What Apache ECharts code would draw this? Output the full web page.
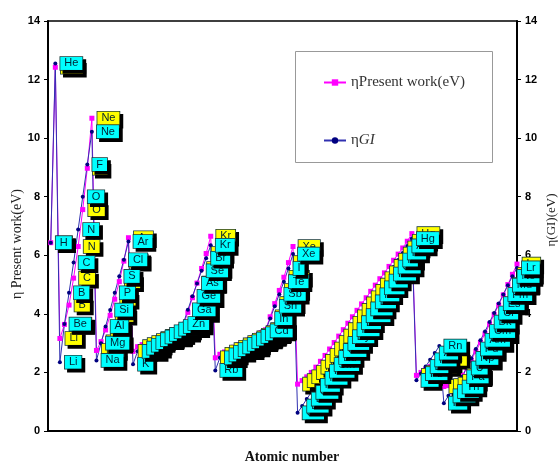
<!DOCTYPE html>
<html>
<head>
<meta charset="utf-8">
<script src="https://cdn.jsdelivr.net/npm/echarts@6/dist/echarts.min.js"></script>
<style>
html,body{margin:0;padding:0;background:#fff;}
#chart{width:558px;height:465px;}
</style>
</head>
<body>
<div id="chart"></div>
<script>
const symbols = ['H','He','Li','Be','B','C','N','O','F','Ne','Na','Mg','Al','Si','P','S','Cl','Ar',
 'K','Ca','Sc','Ti','V','Cr','Mn','Fe','Co','Ni','Cu','Zn','Ga','Ge','As','Se','Br','Kr',
 'Rb','Sr','Y','Zr','Nb','Mo','Tc','Ru','Rh','Pd','Ag','Cd','In','Sn','Sb','Te','I','Xe',
 'Cs','Ba','La','Ce','Pr','Nd','Pm','Sm','Eu','Gd','Tb','Dy','Ho','Er','Tm','Yb','Lu','Hf','Ta','W','Re','Os','Ir','Pt','Au','Hg','Tl','Pb','Bi','Po','At','Rn',
 'Fr','Ra','Ac','Th','Pa','U','Np','Pu','Am','Cm','Bk','Cf','Es','Fm','Md','No','Lr'];

const etaPresent = [6.43,12.42,
 3.16,3.64,4.30,5.22,6.30,7.56,8.97,10.68,
 2.75,3.05,3.45,3.95,4.50,5.10,5.80,6.60,
 2.72,2.88,2.95,3.02,3.09,3.16,3.23,3.30,3.37,3.45,3.53,3.62,4.05,4.55,5.05,5.55,6.06,6.65,
 2.50,2.62,2.70,2.78,2.86,2.94,3.02,3.10,3.18,3.27,3.36,3.46,3.90,4.35,4.80,5.25,5.75,6.30,
 1.60,1.72,1.85,2.00,2.18,2.38,2.58,2.80,3.02,3.24,3.46,3.68,3.90,4.12,4.34,4.55,4.77,4.98,5.20,5.40,5.62,5.83,6.04,6.25,6.48,6.74,
 1.90,2.00,2.10,2.20,2.32,2.45,
 1.52,1.55,1.60,1.70,1.90,2.15,2.42,2.72,3.02,3.32,3.65,3.98,4.30,4.65,5.00,5.35,5.70];

const etaGI = [6.43,12.55,
 2.35,3.65,4.72,5.75,6.88,8.00,9.10,10.22,
 2.41,3.00,3.57,4.13,4.72,5.28,5.85,6.47,
 2.28,2.72,2.83,2.93,3.02,3.12,3.21,3.30,3.39,3.48,3.57,3.67,4.14,4.60,5.04,5.47,5.90,6.34,
 2.07,2.50,2.60,2.69,2.78,2.87,2.96,3.05,3.14,3.23,3.32,3.42,3.84,4.26,4.67,5.10,5.55,6.04,
 0.62,0.85,1.09,1.32,1.56,1.80,2.04,2.27,2.51,2.75,2.99,3.22,3.46,3.70,3.94,4.17,4.41,4.65,4.89,5.12,5.36,5.60,5.84,6.08,6.32,6.57,
 1.73,1.96,2.20,2.43,2.66,2.90,
 0.95,1.20,1.35,1.50,1.85,2.15,2.48,2.80,3.10,3.40,3.72,4.03,4.35,4.66,4.98,5.28,5.57];

const yTicks = [0,2,4,6,8,10,12,14];

const presentData = etaPresent.map((v,i)=>[i+1,v]);
const giData = etaGI.map((v,i)=>[i+1,v]);

function boxLabel(bg){
  return {
    show:true, position:'right', distance:3,
    formatter:p=>symbols[p.dataIndex],
    color:'#002233', fontFamily:'Liberation Sans, Arial, sans-serif', fontSize:11, lineHeight:10,
    backgroundColor:bg, borderColor:'#1a3a3a', borderWidth:0.8,
    padding:[2,4,1,4],
    shadowColor:'#000', shadowOffsetX:3, shadowOffsetY:3, shadowBlur:0
  };
}

const yAxisBase = {
  type:'value', min:0, max:14, interval:2,
  axisLine:{show:true, lineStyle:{color:'#000', width:2}},
  axisTick:{show:true, length:4, lineStyle:{color:'#000'}},
  axisLabel:{color:'#000', fontWeight:'bold', fontSize:11, fontFamily:'Liberation Sans, Arial', margin:8,
    formatter:v=>yTicks.includes(v)?String(v):''},
  splitLine:{show:false}
};

const chart = echarts.init(document.getElementById('chart'));
chart.setOption({
  animation:false,
  backgroundColor:'#fff',
  grid:{left:48, right:41, top:21, bottom:34, show:true, borderColor:'#000', borderWidth:1.5},
  xAxis:{type:'value', min:0.4, max:103,
    axisLine:{show:true, onZero:false, lineStyle:{color:'#000', width:2}},
    axisTick:{show:false}, axisLabel:{show:false}, splitLine:{show:false}},
  yAxis:[Object.assign({position:'left'}, yAxisBase), Object.assign({position:'right'}, yAxisBase)],
  legend:{
    orient:'vertical', left:318, top:70, itemGap:43, itemWidth:22, itemHeight:8,
    data:['ηPresent work(eV)','ηGI'],
    formatter:n=> n==='ηGI' ? '{n|η}{i|GI}' : n,
    textStyle:{color:'#333', fontFamily:'Liberation Serif, Times New Roman, serif', fontSize:15,
      rich:{n:{fontFamily:'Liberation Serif, serif', fontSize:15, color:'#333'},
            i:{fontFamily:'Liberation Serif, serif', fontSize:15, fontStyle:'italic', color:'#333'}}}
  },
  graphic:[
    {type:'rect', left:295, top:51, shape:{width:197, height:111}, z:-1,
      style:{fill:'#fff', stroke:'#999', lineWidth:1}},
    {type:'text', x:17, y:244, rotation:Math.PI/2,
      style:{text:'η Present work(eV)', font:'14px "Liberation Serif", serif', fill:'#222', textAlign:'center', textVerticalAlign:'middle'}},
    {type:'text', x:552, y:220, rotation:Math.PI/2,
      style:{text:'η(GI)(eV)', font:'13px "Liberation Serif", serif', fill:'#222', textAlign:'center', textVerticalAlign:'middle'}},
    {type:'text', x:292, y:457,
      style:{text:'Atomic number', font:'bold 14px "Liberation Serif", serif', fill:'#111', textAlign:'center', textVerticalAlign:'middle'}}
  ],
  series:[
    {name:'ηPresent work(eV)', type:'line', data:presentData, yAxisIndex:0,
      symbol:'rect', symbolSize:5, itemStyle:{color:'#ff00ff'},
      lineStyle:{color:'#ff00ff', width:1}, label:boxLabel('#ffff00')},
    {name:'ηGI', type:'line', data:giData, yAxisIndex:1,
      symbol:'circle', symbolSize:4, itemStyle:{color:'#000080'},
      lineStyle:{color:'#3030b0', width:1}, label:boxLabel('#00ffff')}
  ]
});
</script>
</body>
</html>
